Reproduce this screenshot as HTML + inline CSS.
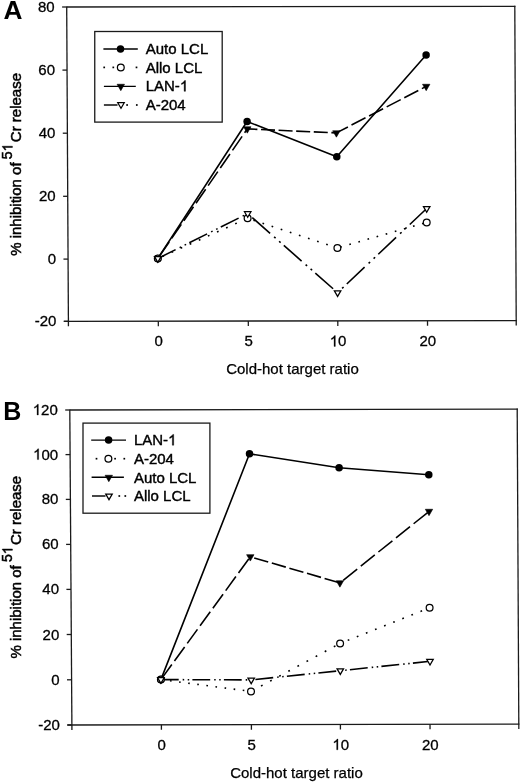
<!DOCTYPE html>
<html><head><meta charset="utf-8"><title>Figure</title>
<style>
html,body{margin:0;padding:0;background:#fff;}
body{width:520px;height:783px;overflow:hidden;}
svg{display:block;font-family:"Liberation Sans", sans-serif;filter:grayscale(1);}
svg text{fill:#000;stroke:#000;stroke-width:0.2px;}
svg text .h1{fill:none;stroke:none;}
</style></head>
<body>
<svg width="520" height="783" viewBox="0 0 520 783">
<rect width="520" height="783" fill="#fff"/>
<text transform="translate(3.4,18.6) scale(1.05,1)" font-size="25" font-weight="bold" style="stroke:none">A</text>
<line x1="66.7" y1="7" x2="515.4" y2="6.3" stroke="#1a1a1a" stroke-width="1.3"/>
<line x1="514.8" y1="5.7" x2="516.23" y2="325.6" stroke="#1a1a1a" stroke-width="1.3"/>
<line x1="63.8" y1="321.3" x2="516.8" y2="320.6" stroke="#1a1a1a" stroke-width="1.3"/>
<line x1="66.7" y1="6.4" x2="68.43" y2="326.3" stroke="#1a1a1a" stroke-width="1.3"/>
<line x1="62.1" y1="7" x2="66.7" y2="7" stroke="#1a1a1a" stroke-width="1.3"/>
<text x="54.7" y="12" font-size="15" text-anchor="end" style="stroke-width:0.3px">80</text>
<line x1="62.44" y1="70.1" x2="67.04" y2="70.1" stroke="#1a1a1a" stroke-width="1.3"/>
<text x="55.04" y="75.1" font-size="15" text-anchor="end" style="stroke-width:0.3px">60</text>
<line x1="62.78" y1="133.2" x2="67.38" y2="133.2" stroke="#1a1a1a" stroke-width="1.3"/>
<text x="55.38" y="138.2" font-size="15" text-anchor="end" style="stroke-width:0.3px">40</text>
<line x1="63.12" y1="196.3" x2="67.72" y2="196.3" stroke="#1a1a1a" stroke-width="1.3"/>
<text x="55.72" y="201.3" font-size="15" text-anchor="end" style="stroke-width:0.3px">20</text>
<line x1="63.46" y1="259.1" x2="68.06" y2="259.1" stroke="#1a1a1a" stroke-width="1.3"/>
<text x="56.06" y="264.1" font-size="15" text-anchor="end" style="stroke-width:0.3px">0</text>
<line x1="63.8" y1="321.3" x2="68.4" y2="321.3" stroke="#1a1a1a" stroke-width="1.3"/>
<text x="56.4" y="326.3" font-size="15" text-anchor="end" style="stroke-width:0.3px">-20</text>
<line x1="158.3" y1="321.16" x2="158.33" y2="326.16" stroke="#1a1a1a" stroke-width="1.3"/>
<text x="158.6" y="346.4" font-size="15" text-anchor="middle" style="stroke-width:0.3px">0</text>
<line x1="248.3" y1="321.02" x2="248.33" y2="326.02" stroke="#1a1a1a" stroke-width="1.3"/>
<text x="248.6" y="346.4" font-size="15" text-anchor="middle" style="stroke-width:0.3px">5</text>
<line x1="337.8" y1="320.88" x2="337.83" y2="325.88" stroke="#1a1a1a" stroke-width="1.3"/>
<text id="t9" x="338.1" y="346.4" font-size="15" text-anchor="middle" style="stroke-width:0.3px"><tspan class="h1">1</tspan>0</text>
<path d="M763 0L583 0L583 1147Q518 1085 412 1023Q306 961 222 930L222 1104Q373 1175 486 1276Q599 1377 646 1472L763 1472Z" transform="translate(329.76,346.4) scale(0.007324,-0.007324)" fill="#000" stroke="#000" stroke-width="40.96"/>
<line x1="427.5" y1="320.74" x2="427.53" y2="325.74" stroke="#1a1a1a" stroke-width="1.3"/>
<text x="427.8" y="346.4" font-size="15" text-anchor="middle" style="stroke-width:0.3px">20</text>
<text x="226.2" y="373.8" font-size="15" text-anchor="start" style="stroke-width:0.25px">Cold-hot target ratio</text>
<text id="t12" transform="translate(20.6,164.4) rotate(-90)" font-size="15" text-anchor="middle" style="stroke-width:0.5px">% inhibition of <tspan font-size="14" dx="-1" dy="-8.2">5<tspan class="h1">1</tspan></tspan><tspan dx="1.5" dy="8.2">Cr release</tspan></text>
<g transform="translate(20.6,164.4) rotate(-90)"><path d="M763 0L583 0L583 1147Q518 1085 412 1023Q306 961 222 930L222 1104Q373 1175 486 1276Q599 1377 646 1472L763 1472Z" transform="translate(12.93,-8.2) scale(0.006836,-0.006836)" fill="#000" stroke="#000" stroke-width="73.14"/></g>
<rect x="94.75" y="31.5" width="127.45" height="90.6" fill="#fff" stroke="#1a1a1a" stroke-width="1.3"/>
<path d="M157.8,258.5 L247.1,121.5 L336.8,156.8 L426.1,55" fill="none" stroke="#000" stroke-width="1.6" stroke-linejoin="round"/>
<line x1="157.8" y1="258.5" x2="247.6" y2="218.3" stroke="#000" stroke-width="1.6" stroke-dasharray="1.75 8.22" stroke-dashoffset="4.93"/>
<line x1="247.6" y1="218.3" x2="337.4" y2="247.9" stroke="#000" stroke-width="1.6" stroke-dasharray="1.68 7.9" stroke-dashoffset="3.47"/>
<line x1="337.4" y1="247.9" x2="426.7" y2="222.4" stroke="#000" stroke-width="1.6" stroke-dasharray="1.66 7.8" stroke-dashoffset="6.55"/>
<line x1="157.8" y1="258.5" x2="247.3" y2="128.9" stroke="#000" stroke-width="1.6" stroke-dasharray="17.01 4.38" stroke-dashoffset="18.35"/>
<line x1="247.3" y1="128.9" x2="336.4" y2="132.9" stroke="#000" stroke-width="1.6" stroke-dasharray="14.01 3.6" stroke-dashoffset="3.9"/>
<line x1="336.4" y1="132.9" x2="426.2" y2="86.4" stroke="#000" stroke-width="1.6" stroke-dasharray="15.77 4.05" stroke-dashoffset="2.82"/>
<line x1="157.8" y1="258.5" x2="247.7" y2="213.6" stroke="#000" stroke-width="1.6" stroke-dasharray="19.9 4.47 1.68 3.91 1.68 3.58" stroke-dashoffset="0"/>
<line x1="247.7" y1="213.6" x2="337.6" y2="292.7" stroke="#000" stroke-width="1.6" stroke-dasharray="23.71 5.33 2 4.66 2 4.26" stroke-dashoffset="35.83"/>
<line x1="337.6" y1="292.7" x2="426.7" y2="208.5" stroke="#000" stroke-width="1.6" stroke-dasharray="24.49 5.5 2.06 4.82 2.06 4.4" stroke-dashoffset="30.68"/>
<circle cx="157.8" cy="258.5" r="3.75" fill="#000"/>
<circle cx="247.1" cy="121.5" r="3.75" fill="#000"/>
<circle cx="336.8" cy="156.8" r="3.75" fill="#000"/>
<circle cx="426.1" cy="55" r="3.75" fill="#000"/>
<circle cx="157.8" cy="258.5" r="3.4" fill="#fff" stroke="#000" stroke-width="1.25"/>
<circle cx="247.6" cy="218.3" r="3.4" fill="#fff" stroke="#000" stroke-width="1.25"/>
<circle cx="337.4" cy="247.9" r="3.4" fill="#fff" stroke="#000" stroke-width="1.25"/>
<circle cx="426.7" cy="222.4" r="3.4" fill="#fff" stroke="#000" stroke-width="1.25"/>
<polygon points="154.1,256.37 161.5,256.37 157.8,262.77" fill="#000" stroke="#000" stroke-width="0.6"/>
<polygon points="243.6,126.77 251,126.77 247.3,133.17" fill="#000" stroke="#000" stroke-width="0.6"/>
<polygon points="332.7,130.77 340.1,130.77 336.4,137.17" fill="#000" stroke="#000" stroke-width="0.6"/>
<polygon points="422.5,84.27 429.9,84.27 426.2,90.67" fill="#000" stroke="#000" stroke-width="0.6"/>
<polygon points="154.55,256.63 161.05,256.63 157.8,262.23" fill="#fff" stroke="#000" stroke-width="1.25"/>
<polygon points="244.45,211.73 250.95,211.73 247.7,217.33" fill="#fff" stroke="#000" stroke-width="1.25"/>
<polygon points="334.35,290.83 340.85,290.83 337.6,296.43" fill="#fff" stroke="#000" stroke-width="1.25"/>
<polygon points="423.45,206.63 429.95,206.63 426.7,212.23" fill="#fff" stroke="#000" stroke-width="1.25"/>
<line x1="103.4" y1="49" x2="137.8" y2="49" stroke="#000" stroke-width="1.45"/>
<circle cx="120.5" cy="48.9" r="3.75" fill="#000"/>
<text x="145.7" y="53.7" font-size="15" text-anchor="start" style="stroke-width:0.4px">Auto LCL</text>
<rect x="103.35" y="66.55" width="1.7" height="1.7" fill="#000"/>
<rect x="112.45" y="66.55" width="1.7" height="1.7" fill="#000"/>
<rect x="135.65" y="66.55" width="1.7" height="1.7" fill="#000"/>
<circle cx="120.8" cy="67.4" r="3.4" fill="#fff" stroke="#000" stroke-width="1.25"/>
<text x="145.7" y="72.9" font-size="15" text-anchor="start" style="stroke-width:0.4px">Allo LCL</text>
<line x1="103.9" y1="86.35" x2="135.8" y2="86.35" stroke="#000" stroke-width="1.45"/>
<polygon points="117.1,84.27 124.5,84.27 120.8,90.67" fill="#000" stroke="#000" stroke-width="0.6"/>
<text id="t15" x="145.7" y="91.3" font-size="15" text-anchor="start" style="stroke-width:0.4px">LAN-<tspan class="h1">1</tspan></text>
<path d="M763 0L583 0L583 1147Q518 1085 412 1023Q306 961 222 930L222 1104Q373 1175 486 1276Q599 1377 646 1472L763 1472Z" transform="translate(179.89,91.3) scale(0.007324,-0.007324)" fill="#000" stroke="#000" stroke-width="54.61"/>
<line x1="103.9" y1="105" x2="117.5" y2="105" stroke="#000" stroke-width="1.45"/>
<rect x="126.25" y="104.15" width="1.7" height="1.7" fill="#000"/>
<rect x="135.95" y="104.15" width="1.7" height="1.7" fill="#000"/>
<polygon points="117.75,102.73 124.25,102.73 121,108.33" fill="#fff" stroke="#000" stroke-width="1.25"/>
<text x="145.7" y="110.3" font-size="15" text-anchor="start" style="stroke-width:0.4px">A-204</text>
<text transform="translate(3.2,419.6) scale(1.0,1)" font-size="25" font-weight="bold" style="stroke:none">B</text>
<line x1="69.8" y1="410" x2="517.8" y2="409.1" stroke="#1a1a1a" stroke-width="1.3"/>
<line x1="517.2" y1="408.5" x2="518.83" y2="729.1" stroke="#1a1a1a" stroke-width="1.3"/>
<line x1="67.3" y1="725" x2="519.4" y2="724.1" stroke="#1a1a1a" stroke-width="1.3"/>
<line x1="69.8" y1="409.4" x2="71.93" y2="730" stroke="#1a1a1a" stroke-width="1.3"/>
<line x1="65.2" y1="410" x2="69.8" y2="410" stroke="#1a1a1a" stroke-width="1.3"/>
<text id="t17" x="57.8" y="415" font-size="15" text-anchor="end" style="stroke-width:0.3px"><tspan class="h1">1</tspan>20</text>
<path d="M763 0L583 0L583 1147Q518 1085 412 1023Q306 961 222 930L222 1104Q373 1175 486 1276Q599 1377 646 1472L763 1472Z" transform="translate(32.77,415) scale(0.007324,-0.007324)" fill="#000" stroke="#000" stroke-width="40.96"/>
<line x1="65.5" y1="454.6" x2="70.1" y2="454.6" stroke="#1a1a1a" stroke-width="1.3"/>
<text id="t18" x="58.1" y="459.6" font-size="15" text-anchor="end" style="stroke-width:0.3px"><tspan class="h1">1</tspan>00</text>
<path d="M763 0L583 0L583 1147Q518 1085 412 1023Q306 961 222 930L222 1104Q373 1175 486 1276Q599 1377 646 1472L763 1472Z" transform="translate(33.07,459.6) scale(0.007324,-0.007324)" fill="#000" stroke="#000" stroke-width="40.96"/>
<line x1="65.8" y1="499.4" x2="70.4" y2="499.4" stroke="#1a1a1a" stroke-width="1.3"/>
<text x="58.4" y="504.4" font-size="15" text-anchor="end" style="stroke-width:0.3px">80</text>
<line x1="66.1" y1="544.4" x2="70.7" y2="544.4" stroke="#1a1a1a" stroke-width="1.3"/>
<text x="58.7" y="549.4" font-size="15" text-anchor="end" style="stroke-width:0.3px">60</text>
<line x1="66.4" y1="589.4" x2="71" y2="589.4" stroke="#1a1a1a" stroke-width="1.3"/>
<text x="59" y="594.4" font-size="15" text-anchor="end" style="stroke-width:0.3px">40</text>
<line x1="66.7" y1="634.5" x2="71.3" y2="634.5" stroke="#1a1a1a" stroke-width="1.3"/>
<text x="59.3" y="639.5" font-size="15" text-anchor="end" style="stroke-width:0.3px">20</text>
<line x1="67" y1="679.8" x2="71.6" y2="679.8" stroke="#1a1a1a" stroke-width="1.3"/>
<text x="59.6" y="684.8" font-size="15" text-anchor="end" style="stroke-width:0.3px">0</text>
<line x1="67.3" y1="725" x2="71.9" y2="725" stroke="#1a1a1a" stroke-width="1.3"/>
<text x="59.9" y="730" font-size="15" text-anchor="end" style="stroke-width:0.3px">-20</text>
<line x1="161.4" y1="724.82" x2="161.43" y2="729.82" stroke="#1a1a1a" stroke-width="1.3"/>
<text x="161.7" y="749.8" font-size="15" text-anchor="middle" style="stroke-width:0.3px">0</text>
<line x1="251.4" y1="724.64" x2="251.43" y2="729.64" stroke="#1a1a1a" stroke-width="1.3"/>
<text x="251.7" y="749.8" font-size="15" text-anchor="middle" style="stroke-width:0.3px">5</text>
<line x1="340.4" y1="724.46" x2="340.43" y2="729.46" stroke="#1a1a1a" stroke-width="1.3"/>
<text id="t27" x="340.7" y="749.8" font-size="15" text-anchor="middle" style="stroke-width:0.3px"><tspan class="h1">1</tspan>0</text>
<path d="M763 0L583 0L583 1147Q518 1085 412 1023Q306 961 222 930L222 1104Q373 1175 486 1276Q599 1377 646 1472L763 1472Z" transform="translate(332.36,749.8) scale(0.007324,-0.007324)" fill="#000" stroke="#000" stroke-width="40.96"/>
<line x1="430" y1="724.28" x2="430.03" y2="729.28" stroke="#1a1a1a" stroke-width="1.3"/>
<text x="430.3" y="749.8" font-size="15" text-anchor="middle" style="stroke-width:0.3px">20</text>
<text x="230.2" y="778" font-size="15" text-anchor="start" style="stroke-width:0.25px">Cold-hot target ratio</text>
<text id="t30" transform="translate(20.6,567.2) rotate(-90)" font-size="15" text-anchor="middle" style="stroke-width:0.5px">% inhibition of <tspan font-size="14" dx="-1" dy="-8.2">5<tspan class="h1">1</tspan></tspan><tspan dx="1.5" dy="8.2">Cr release</tspan></text>
<g transform="translate(20.6,567.2) rotate(-90)"><path d="M763 0L583 0L583 1147Q518 1085 412 1023Q306 961 222 930L222 1104Q373 1175 486 1276Q599 1377 646 1472L763 1472Z" transform="translate(12.93,-8.2) scale(0.006836,-0.006836)" fill="#000" stroke="#000" stroke-width="73.14"/></g>
<rect x="83" y="423.1" width="126.9" height="90.1" fill="#fff" stroke="#1a1a1a" stroke-width="1.3"/>
<path d="M160.9,679.6 L249.5,453.8 L339.1,467.8 L428.8,474.8" fill="none" stroke="#000" stroke-width="1.6" stroke-linejoin="round"/>
<line x1="160.9" y1="679.6" x2="251" y2="691.4" stroke="#000" stroke-width="1.6" stroke-dasharray="1.61 7.56" stroke-dashoffset="0"/>
<line x1="251" y1="691.4" x2="340.1" y2="643.4" stroke="#000" stroke-width="1.6" stroke-dasharray="1.82 8.52" stroke-dashoffset="9.31"/>
<line x1="340.1" y1="643.4" x2="429.6" y2="607.8" stroke="#000" stroke-width="1.6" stroke-dasharray="1.72 8.07" stroke-dashoffset="1.61"/>
<line x1="160.9" y1="679.6" x2="250.3" y2="556.8" stroke="#000" stroke-width="1.6" stroke-dasharray="17.32 4.45" stroke-dashoffset="20.53"/>
<line x1="250.3" y1="556.8" x2="339.9" y2="582.9" stroke="#000" stroke-width="1.6" stroke-dasharray="14.58 3.75" stroke-dashoffset="14.27"/>
<line x1="339.9" y1="582.9" x2="429" y2="511.4" stroke="#000" stroke-width="1.6" stroke-dasharray="17.95 4.62" stroke-dashoffset="18.34"/>
<line x1="160.9" y1="679.6" x2="251.2" y2="679.9" stroke="#000" stroke-width="1.6" stroke-dasharray="17.8 4 1.5 3.5 1.5 3.2" stroke-dashoffset="0"/>
<line x1="251.2" y1="679.9" x2="340.3" y2="670.7" stroke="#000" stroke-width="1.6" stroke-dasharray="17.89 4.02 1.51 3.52 1.51 3.22" stroke-dashoffset="27.45"/>
<line x1="340.3" y1="670.7" x2="430" y2="661.3" stroke="#000" stroke-width="1.6" stroke-dasharray="17.9 4.02 1.51 3.52 1.51 3.22" stroke-dashoffset="22.02"/>
<circle cx="160.9" cy="679.6" r="3.75" fill="#000"/>
<circle cx="249.5" cy="453.8" r="3.75" fill="#000"/>
<circle cx="339.1" cy="467.8" r="3.75" fill="#000"/>
<circle cx="428.8" cy="474.8" r="3.75" fill="#000"/>
<circle cx="160.9" cy="679.6" r="3.4" fill="#fff" stroke="#000" stroke-width="1.25"/>
<circle cx="251" cy="691.4" r="3.4" fill="#fff" stroke="#000" stroke-width="1.25"/>
<circle cx="340.1" cy="643.4" r="3.4" fill="#fff" stroke="#000" stroke-width="1.25"/>
<circle cx="429.6" cy="607.8" r="3.4" fill="#fff" stroke="#000" stroke-width="1.25"/>
<polygon points="157.2,677.47 164.6,677.47 160.9,683.87" fill="#000" stroke="#000" stroke-width="0.6"/>
<polygon points="246.6,554.67 254,554.67 250.3,561.07" fill="#000" stroke="#000" stroke-width="0.6"/>
<polygon points="336.2,580.77 343.6,580.77 339.9,587.17" fill="#000" stroke="#000" stroke-width="0.6"/>
<polygon points="425.3,509.27 432.7,509.27 429,515.67" fill="#000" stroke="#000" stroke-width="0.6"/>
<polygon points="157.65,677.73 164.15,677.73 160.9,683.33" fill="#fff" stroke="#000" stroke-width="1.25"/>
<polygon points="247.95,678.03 254.45,678.03 251.2,683.63" fill="#fff" stroke="#000" stroke-width="1.25"/>
<polygon points="337.05,668.83 343.55,668.83 340.3,674.43" fill="#fff" stroke="#000" stroke-width="1.25"/>
<polygon points="426.75,659.43 433.25,659.43 430,665.03" fill="#fff" stroke="#000" stroke-width="1.25"/>
<line x1="91.2" y1="440.1" x2="126" y2="440.1" stroke="#000" stroke-width="1.45"/>
<circle cx="108.6" cy="440.1" r="3.75" fill="#000"/>
<text id="t31" x="133.9" y="445.2" font-size="15" text-anchor="start" style="stroke-width:0.4px">LAN-<tspan class="h1">1</tspan></text>
<path d="M763 0L583 0L583 1147Q518 1085 412 1023Q306 961 222 930L222 1104Q373 1175 486 1276Q599 1377 646 1472L763 1472Z" transform="translate(168.09,445.2) scale(0.007324,-0.007324)" fill="#000" stroke="#000" stroke-width="54.61"/>
<rect x="95.65" y="457.85" width="1.7" height="1.7" fill="#000"/>
<rect x="114.25" y="457.85" width="1.7" height="1.7" fill="#000"/>
<rect x="123.45" y="457.85" width="1.7" height="1.7" fill="#000"/>
<circle cx="108.4" cy="458.7" r="3.4" fill="#fff" stroke="#000" stroke-width="1.25"/>
<text x="133.9" y="463.7" font-size="15" text-anchor="start" style="stroke-width:0.4px">A-204</text>
<line x1="91.6" y1="477.3" x2="123.9" y2="477.3" stroke="#000" stroke-width="1.45"/>
<polygon points="105.1,475.27 112.5,475.27 108.8,481.67" fill="#000" stroke="#000" stroke-width="0.6"/>
<text x="133.9" y="482.6" font-size="15" text-anchor="start" style="stroke-width:0.4px">Auto LCL</text>
<line x1="92" y1="496" x2="105.5" y2="496" stroke="#000" stroke-width="1.45"/>
<rect x="118.45" y="495.15" width="1.7" height="1.7" fill="#000"/>
<rect x="124.45" y="495.15" width="1.7" height="1.7" fill="#000"/>
<polygon points="105.75,494.03 112.25,494.03 109,499.63" fill="#fff" stroke="#000" stroke-width="1.25"/>
<text x="133.9" y="501.1" font-size="15" text-anchor="start" style="stroke-width:0.4px">Allo LCL</text>
</svg>
</body></html>
